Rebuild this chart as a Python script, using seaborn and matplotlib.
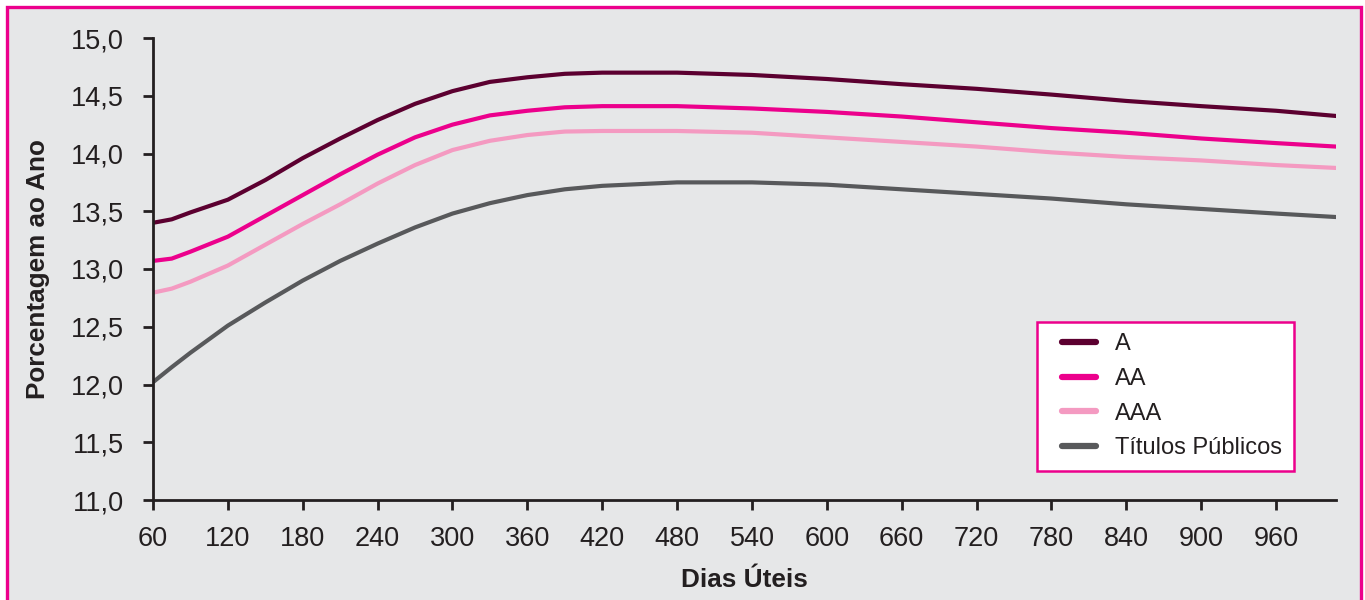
import numpy as np
import pandas as pd
import matplotlib
matplotlib.use("Agg")
import matplotlib.pyplot as plt
from matplotlib.patches import Rectangle
from matplotlib.ticker import FuncFormatter
import seaborn as sns

# business days (x) and rates (% a.a.)
dias = [60, 75, 90, 120, 150, 180, 210, 240, 270, 300, 330, 360, 390, 420,
        480, 540, 600, 660, 720, 780, 840, 900, 960, 1008]

taxa_a = [13.40, 13.43, 13.49, 13.60, 13.77, 13.96, 14.13, 14.29, 14.43, 14.54, 14.62,
          14.66, 14.69, 14.70, 14.70, 14.68, 14.645, 14.60, 14.56, 14.51, 14.455,
          14.41, 14.37, 14.325]
taxa_aa = [13.07, 13.09, 13.15, 13.28, 13.46, 13.64, 13.82, 13.99, 14.14, 14.25, 14.33,
           14.37, 14.40, 14.41, 14.41, 14.39, 14.36, 14.32, 14.27, 14.22, 14.18,
           14.13, 14.09, 14.06]
taxa_aaa = [12.795, 12.83, 12.89, 13.03, 13.21, 13.39, 13.56, 13.74, 13.90, 14.03, 14.11,
            14.16, 14.19, 14.195, 14.195, 14.18, 14.14, 14.10, 14.06, 14.01, 13.97,
            13.94, 13.90, 13.875]
taxa_tp = [12.02, 12.15, 12.275, 12.51, 12.71, 12.90, 13.07, 13.22, 13.36, 13.48, 13.57,
           13.64, 13.69, 13.72, 13.75, 13.75, 13.73, 13.69, 13.65, 13.61, 13.56,
           13.52, 13.48, 13.45]

series = ["A", "AA", "AAA", "Títulos Públicos"]
cores = ["#5c0030", "#ec008c", "#f49ac1", "#58595b"]
x_ticks = list(range(60, 961, 60))
y_ticks = [11.0, 11.5, 12.0, 12.5, 13.0, 13.5, 14.0, 14.5, 15.0]

frames = []
for nome, vals in zip(series, [taxa_a, taxa_aa, taxa_aaa, taxa_tp]):
    frames.append(pd.DataFrame({"dias": dias, "taxa": vals, "serie": nome}))
df = pd.concat(frames, ignore_index=True)

sns.set_style("white")
plt.rcParams["font.family"] = ["Liberation Sans", "DejaVu Sans"]

fig = plt.figure(figsize=(13.65, 6), dpi=100)
fig.patch.set_facecolor("white")
bg = Rectangle((7 / 1365, -0.05), (1361 - 7) / 1365, 1.05 - 7 / 600,
               transform=fig.transFigure, facecolor="#e6e7e8",
               edgecolor="#ec008c", linewidth=2.4, zorder=-10)
fig.patches.append(bg)

ax = fig.add_axes([153 / 1365, 100 / 600, (1336 - 153) / 1365, 462 / 600])
ax.set_facecolor("none")

sns.lineplot(data=df, x="dias", y="taxa", hue="serie", hue_order=series,
             palette=cores, linewidth=3, ax=ax)

ax.set_xlim(60, 1008)
ax.set_ylim(11.0, 15.0)
ax.set_xticks(x_ticks)
ax.set_yticks(y_ticks)
ax.yaxis.set_major_formatter(FuncFormatter(lambda v, p: f"{v:.1f}".replace(".", ",")))

for side in ["top", "right"]:
    ax.spines[side].set_visible(False)
for side in ["left", "bottom"]:
    ax.spines[side].set_color("#231f20")
    ax.spines[side].set_linewidth(2)
ax.tick_params(axis="both", bottom=True, left=True, direction="out", length=7,
               width=2, color="#231f20", labelsize=19.5, labelcolor="#231f20")
ax.tick_params(axis="y", pad=14)
ax.tick_params(axis="x", pad=12)

ax.set_xlabel("Dias Úteis", fontsize=18.8, fontweight="bold", color="#231f20", labelpad=11)
ax.set_ylabel("Porcentagem ao Ano", fontsize=18.8, fontweight="bold", color="#231f20", labelpad=15)

leg = ax.legend(loc="lower left", bbox_to_anchor=(0.747, 0.063), borderaxespad=0,
                frameon=True, fancybox=False, fontsize=17, handlelength=2.16,
                handletextpad=0.68, labelspacing=0.54, borderpad=0.49, title=None)
leg.get_frame().set_edgecolor("#ec008c")
leg.get_frame().set_linewidth(1.8)
leg.get_frame().set_facecolor("white")
leg.get_frame().set_alpha(1)
for line in leg.get_lines():
    line.set_linewidth(4.5)
    line.set_solid_capstyle("round")
    xd = np.asarray(line.get_xdata(), dtype=float)
    yd = np.asarray(line.get_ydata(), dtype=float)
    span = xd[-1] - xd[0]
    line.set_data([xd[0] + span * 14 / 51, xd[-1] - span * 3 / 51], [yd[0], yd[0]])
for t in leg.get_texts():
    t.set_color("#231f20")

fig.savefig("out.png", dpi=100)
